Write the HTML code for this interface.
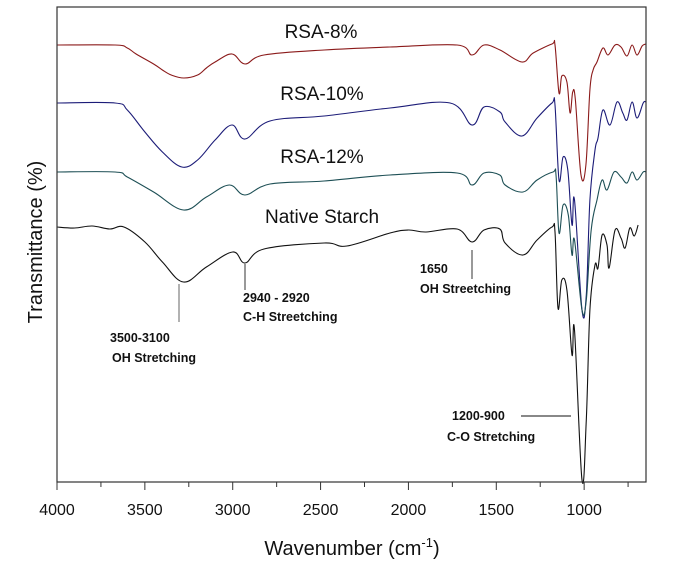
<!DOCTYPE html>
<html><head><meta charset="utf-8">
<style>
html,body{margin:0;padding:0;background:#fff;}
svg{display:block;font-family:"Liberation Sans",Arial,sans-serif;}
</style></head>
<body>
<svg id="chart" width="673" height="565" viewBox="0 0 673 565" xmlns="http://www.w3.org/2000/svg">
  <rect x="0" y="0" width="673" height="565" fill="#fff"/>
  <g id="curves"></g>
  <rect x="57" y="7" width="589" height="475" fill="none" stroke="#333" stroke-width="1.2"/>
  <g id="xticks"></g>
  <text x="352" y="555" font-size="20" text-anchor="middle" fill="#111">Wavenumber (cm<tspan font-size="13" dy="-8">-1</tspan><tspan dy="8">)</tspan></text>
  <text transform="translate(42,242) rotate(-90)" font-size="20" text-anchor="middle" fill="#111">Transmittance (%)</text>
  <text x="321" y="38" font-size="19" text-anchor="middle" fill="#111">RSA-8%</text>
  <text x="322" y="100" font-size="19" text-anchor="middle" fill="#111">RSA-10%</text>
  <text x="322" y="163" font-size="19" text-anchor="middle" fill="#111">RSA-12%</text>
  <text x="322" y="223" font-size="19" text-anchor="middle" fill="#111">Native Starch</text>
  <g font-size="12.5" font-weight="bold" fill="#111">
    <line x1="179" y1="284" x2="179" y2="322" stroke="#666" stroke-width="1"/>
    <text x="110" y="342">3500-3100</text>
    <text x="112" y="362">OH Stretching</text>
    <line x1="245" y1="264" x2="245" y2="290" stroke="#333" stroke-width="1"/>
    <text x="243" y="302">2940 - 2920</text>
    <text x="243" y="321">C-H Streetching</text>
    <line x1="472" y1="250" x2="472" y2="279" stroke="#333" stroke-width="1"/>
    <text x="420" y="273">1650</text>
    <text x="420" y="293">OH Streetching</text>
    <text x="452" y="420">1200-900</text>
    <line x1="521" y1="416" x2="571" y2="416" stroke="#111" stroke-width="1"/>
    <text x="447" y="441">C-O Stretching</text>
  </g>
</svg>
<script>
const xTicks = [4000, 3500, 3000, 2500, 2000, 1500, 1000];
const minorTicks = [3750, 3250, 2750, 2250, 1750, 1250, 750];
const rsa8Wn = [4000,3670,3600,3550,3450,3400,3350,3278,3200,3150,3100,3004,2930,2822,2480,2105,1723,1638,1570,1479,1354,1290,1183,1166,1143,1127,1098,1080,1065,1050,1018,990,967,949,927,893,864,824,790,756,727,699,670,648];
const rsa8Val = [437,437,434,428,418,412,407,404,407,414,420,428,418,427,432,435,437,427,437,432,420,429,438,437,389,406,400,369,390,382,307,317,392,412,420,434,427,437,435,426,437,427,436,438];
const rsa10Wn = [4000,3670,3600,3500,3400,3290,3200,3100,3004,2930,2788,2480,2105,1763,1638,1570,1479,1450,1354,1268,1183,1166,1143,1120,1093,1069,1055,1012,988,967,938,921,893,853,813,780,756,727,699,664,648];
const rsa10Val = [379,379,372,350,330,315,322,342,357,343,361,366,374,379,357,375,370,360,346,364,379,377,302,325,312,257,282,172,187,282,332,344,372,357,380,369,362,380,364,379,380];
const rsa12Wn = [4000,3670,3600,3450,3280,3150,3020,2930,2788,2480,2105,1723,1638,1570,1480,1450,1348,1268,1177,1160,1143,1120,1090,1069,1055,1012,988,960,927,898,870,830,790,756,727,699,664,648];
const rsa12Val = [310,310,305,290,272,285,297,287,298,301,307,309,297,309,307,297,290,302,310,307,249,277,267,227,242,172,182,252,282,302,292,310,305,299,310,302,310,310];
const nativeWn = [4000,3900,3800,3700,3619,3500,3400,3280,3150,3000,2930,2822,2480,2350,2105,2000,1900,1723,1638,1570,1480,1450,1348,1268,1183,1166,1149,1127,1098,1069,1055,1012,988,967,938,921,898,870,858,824,790,767,740,715,693];
const nativeVal = [255,254,256,253,255,240,220,200,215,230,219,233,239,236,249,252,250,253,240,252,253,239,227,242,255,250,174,202,192,127,152,2,62,172,217,214,247,237,214,252,244,234,254,246,257];

const X0 = 57, X1 = 646, Y0 = 482;
function xScale(wn){ return X0 + (4000 - wn) * (X1 - X0) / (4000 - 648); }
function yScale(v){ return Y0 - v; }

function smoothPath(pts){
  let d = 'M' + pts[0][0].toFixed(1) + ',' + pts[0][1].toFixed(1);
  const t = 0.18;
  for (let i = 0; i < pts.length - 1; i++) {
    const p0 = pts[Math.max(0, i - 1)], p1 = pts[i], p2 = pts[i + 1], p3 = pts[Math.min(pts.length - 1, i + 2)];
    const c1x = p1[0] + (p2[0] - p0[0]) * t, c1y = p1[1] + (p2[1] - p0[1]) * t;
    const c2x = p2[0] - (p3[0] - p1[0]) * t, c2y = p2[1] - (p3[1] - p1[1]) * t;
    d += 'C' + c1x.toFixed(1) + ',' + c1y.toFixed(1) + ' ' + c2x.toFixed(1) + ',' + c2y.toFixed(1) + ' ' + p2[0].toFixed(1) + ',' + p2[1].toFixed(1);
  }
  return d;
}

const NS = 'http://www.w3.org/2000/svg';
const curves = document.getElementById('curves');
const series = [
  {wn: rsa8Wn, val: rsa8Val, color: '#8b1a1a', name: 'series-rsa-8'},
  {wn: rsa10Wn, val: rsa10Val, color: '#1c1c78', name: 'series-rsa-10'},
  {wn: rsa12Wn, val: rsa12Val, color: '#1d4f55', name: 'series-rsa-12'},
  {wn: nativeWn, val: nativeVal, color: '#111111', name: 'series-native-starch'}
];
series.forEach(s => {
  const pts = s.wn.map((w, i) => [xScale(w), yScale(s.val[i])]);
  const p = document.createElementNS(NS, 'path');
  p.setAttribute('d', smoothPath(pts));
  p.setAttribute('fill', 'none');
  p.setAttribute('stroke', s.color);
  p.setAttribute('stroke-width', '1.1');
  p.setAttribute('stroke-linejoin', 'round');
  
  
  curves.appendChild(p);
});

const xt = document.getElementById('xticks');
xTicks.forEach(t => {
  const x = xScale(t);
  const l = document.createElementNS(NS, 'line');
  l.setAttribute('x1', x); l.setAttribute('x2', x);
  l.setAttribute('y1', Y0); l.setAttribute('y2', Y0 + 8);
  l.setAttribute('stroke', '#333');
  
  
  xt.appendChild(l);
  const tx = document.createElementNS(NS, 'text');
  tx.setAttribute('x', x); tx.setAttribute('y', Y0 + 33);
  tx.setAttribute('text-anchor', 'middle');
  tx.setAttribute('font-size', '16');
  tx.setAttribute('fill', '#111');
  tx.textContent = t;
  
  
  xt.appendChild(tx);
});
minorTicks.forEach(t => {
  const x = xScale(t);
  const l = document.createElementNS(NS, 'line');
  l.setAttribute('x1', x); l.setAttribute('x2', x);
  l.setAttribute('y1', Y0); l.setAttribute('y2', Y0 + 5);
  l.setAttribute('stroke', '#333');
  
  
  xt.appendChild(l);
});
</script>
</body></html>
